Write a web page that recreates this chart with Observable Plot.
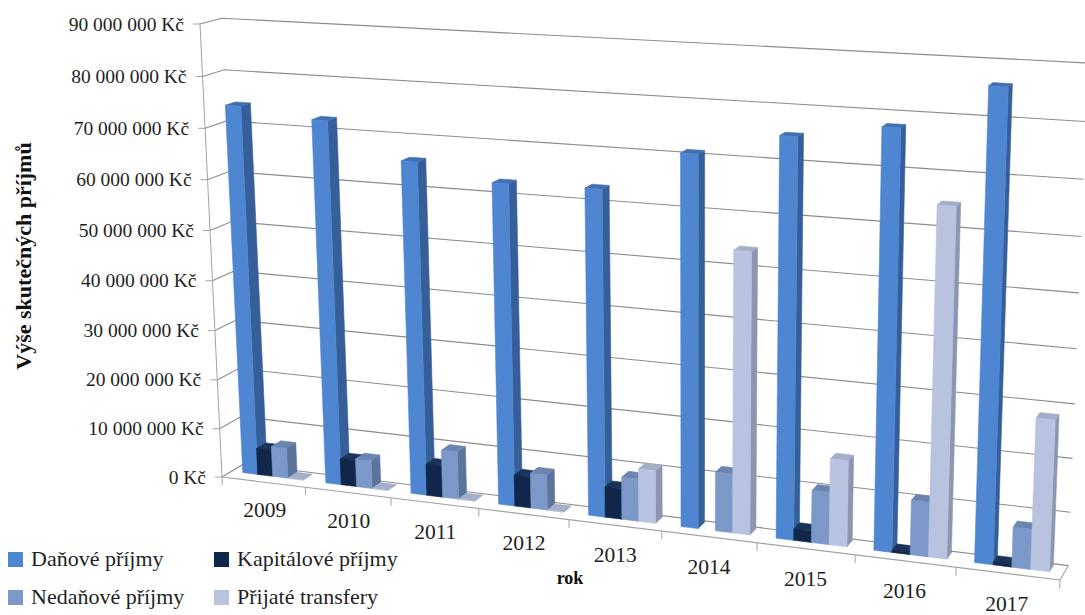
<!DOCTYPE html>
<html>
<head>
<meta charset="utf-8">
<script src="https://cdn.jsdelivr.net/npm/d3@7"></script>
<script src="https://cdn.jsdelivr.net/npm/@observablehq/plot@0.6"></script>
<style>
  body { margin: 0; background: #fff; }
  #chart { position: relative; width: 1085px; height: 615px; overflow: hidden; }
  #chart svg { position: absolute; left: 0; top: 0; }
  .legend-item { position: absolute; display: flex; align-items: center; height: 22px;
                 font-family: 'Liberation Serif', 'Times New Roman', serif;
                 font-size: 22px; line-height: 22px; color: #1f1f1f; white-space: nowrap; }
  .legend-item i { display: inline-block; width: 15px; height: 15px; margin-right: 8px; }
</style>
</head>
<body>
<div id="chart"></div>
<script>
// Categories (years) and series
const years = ["2009", "2010", "2011", "2012", "2013", "2014", "2015", "2016", "2017"];
const series = ["Daňové příjmy", "Kapitálové příjmy", "Nedaňové příjmy", "Přijaté transfery"];

// Actual revenues in Kč per year
const danovePrijmy      = [74.0e6, 72.3e6, 65.6e6, 62.7e6, 63.0e6, 70.7e6, 75.0e6, 77.7e6, 85.9e6];
const kapitalovePrijmy  = [5.4e6, 5.3e6, 6.3e6, 6.2e6, 6.0e6, null, 2.2e6, 0.4e6, 0.5e6];
const nedanovePrijmy    = [6.2e6, 5.7e6, 9.5e6, 7.0e6, 8.3e6, 11.4e6, 10.0e6, 10.3e6, 7.5e6];
const prijateTransfery  = [0, 0, 0, 0, 10.3e6, 53.6e6, 16.4e6, 64.6e6, 28.0e6];
const seriesValues = [danovePrijmy, kapitalovePrijmy, nedanovePrijmy, prijateTransfery];

// Value axis ticks
const yTicks = [0, 10e6, 20e6, 30e6, 40e6, 50e6, 60e6, 70e6, 80e6, 90e6];
const yMax = 90e6;

// Face colours: front, top, right side
const frontColors = ["#4e86d2", "#10264a", "#7b98c9", "#b8c3e0"];
const topColors   = ["#416fb0", "#1b3358", "#6b85b0", "#a3aec9"];
const sideColors  = ["#365f9a", "#0a1a33", "#5c739b", "#8c96ae"];

const czk = d3.formatLocale({decimal: ",", thousands: " ", grouping: [3], currency: ["", " Kč"]}).format("$,");

const rows = years.flatMap((year, i) =>
  series.map((s, j) => ({year, series: s, value: seriesValues[j][i]})));

// Perspective camera: front plane corners (u,v in unit square) and the depth vanishing point
const frontPlane = [[222, 477], [1060, 580], [1080, 69.5], [200, 24]];
const vanishingPoint = [1600, -350];
const depthShrink = 0.0155;

function homography([p0, p1, p2, p3]) {
  const [x0, y0] = p0, [x1, y1] = p1, [x2, y2] = p2, [x3, y3] = p3;
  const dx1 = x1 - x2, dx2 = x3 - x2, dx3 = x0 - x1 + x2 - x3;
  const dy1 = y1 - y2, dy2 = y3 - y2, dy3 = y0 - y1 + y2 - y3;
  const den = dx1 * dy2 - dx2 * dy1;
  const g = (dx3 * dy2 - dx2 * dy3) / den;
  const h = (dx1 * dy3 - dx3 * dy1) / den;
  const a = x1 - x0 + g * x1, b = x3 - x0 + h * x3, c = x0;
  const d = y1 - y0 + g * y1, e = y3 - y0 + h * y3, f = y0;
  return (u, v) => {
    const w = g * u + h * v + 1;
    return [(a * u + b * v + c) / w, (d * u + e * v + f) / w];
  };
}
const H = homography(frontPlane);
function project(u, v, z) {
  const [fx, fy] = H(u, v);
  const s = 1 - depthShrink * z;
  return [vanishingPoint[0] + (fx - vanishingPoint[0]) * s,
          vanishingPoint[1] + (fy - vanishingPoint[1]) * s];
}
const poly = pts => "M" + pts.map(p => p[0].toFixed(2) + "," + p[1].toFixed(2)).join("L") + "Z";
const line = pts => "M" + pts.map(p => p[0].toFixed(2) + "," + p[1].toFixed(2)).join("L");

function columns3d(index, scales) {
  const xs = scales.x, ys = scales.y;
  const bw = xs.bandwidth ? xs.bandwidth() : 1 / years.length;
  const g = d3.create("svg:g");
  const gridColor = "#8c8c8c", axisColor = "#a3a3a3";
  const serif = "'Liberation Serif', 'Times New Roman', serif";

  // Gridlines: stub across the side wall, then along the back wall
  for (const t of yTicks) {
    const v = ys(t);
    g.append("path").attr("d", line([project(0, v, 0), project(0, v, 1), project(1, v, 1)]))
      .attr("fill", "none").attr("stroke", gridColor).attr("stroke-width", 1.1);
  }

  // Value axis line with tick marks
  g.append("path").attr("d", line([project(0, ys(0), 0), project(0, ys(yMax), 0)]))
    .attr("fill", "none").attr("stroke", axisColor).attr("stroke-width", 1);
  for (const t of yTicks) {
    const [px, py] = project(0, ys(t), 0);
    g.append("path").attr("d", line([[px - 7, py], [px, py]]))
      .attr("stroke", axisColor).attr("stroke-width", 1);
  }

  // Floor front edge, right edge and category ticks
  const uEnd = xs(years[years.length - 1]) + bw;
  g.append("path").attr("d", line([project(0, ys(0), 0), project(uEnd, ys(0), 0), project(uEnd, ys(0), 1)]))
    .attr("fill", "none").attr("stroke", axisColor).attr("stroke-width", 1.1);
  const bounds = years.map(y => xs(y)).concat([uEnd]);
  for (const u of bounds) {
    g.append("path").attr("d", line([project(u, ys(0), 0), project(u, ys(-1.6e6), 0)]))
      .attr("stroke", axisColor).attr("stroke-width", 1);
  }

  // 3D columns, drawn left to right so neighbours cover hidden side faces
  const n = series.length, w = bw / (n + 1.5);
  const zf = 0.45, zb = 0.9;
  years.forEach((yr, i) => {
    series.forEach((s, j) => {
      const val = seriesValues[j][i];
      if (val == null) return;
      const u0 = xs(yr) + 0.75 * w + j * w, u1 = u0 + w;
      const v0 = ys(0), v1 = ys(val);
      const faces = [
        [[project(u1, v0, zf), project(u1, v1, zf), project(u1, v1, zb), project(u1, v0, zb)], sideColors[j]],
        [[project(u0, v1, zf), project(u1, v1, zf), project(u1, v1, zb), project(u0, v1, zb)], topColors[j]],
        [[project(u0, v0, zf), project(u1, v0, zf), project(u1, v1, zf), project(u0, v1, zf)], frontColors[j]]
      ];
      for (const [pts, c] of faces) {
        g.append("path").attr("d", poly(pts)).attr("fill", c)
          .attr("stroke", c).attr("stroke-width", 0.6).attr("stroke-linejoin", "round");
      }
    });
  });

  // Value tick labels
  for (const t of yTicks) {
    const [px, py] = project(0, ys(t), 0);
    g.append("text").attr("x", px - 16).attr("y", py).attr("text-anchor", "end")
      .attr("dominant-baseline", "central").style("font-family", serif)
      .attr("font-size", 19.5).attr("fill", "#1e1e1e").text(czk(t));
  }

  // Year labels under the floor
  for (const yr of years) {
    const [px, py] = project(xs(yr) + bw / 2, ys(-5.8e6), 0);
    g.append("text").attr("x", px).attr("y", py).attr("text-anchor", "middle")
      .attr("dominant-baseline", "central").style("font-family", serif)
      .attr("font-size", 21.5).attr("fill", "#1e1e1e").text(yr);
  }

  // Axis titles
  g.append("text").attr("transform", "translate(23,256) rotate(-90)")
    .attr("text-anchor", "middle").attr("dominant-baseline", "central").style("font-family", serif)
    .attr("font-size", 22).attr("font-weight", "bold").attr("fill", "#111").text("Výše skutečných příjmů");
  g.append("text").attr("x", 570).attr("y", 584).attr("text-anchor", "middle").style("font-family", serif)
    .attr("font-size", 18).attr("font-weight", "bold").attr("fill", "#111").text("rok");

  return g.node();
}

const chart = Plot.plot({
  width: 1085,
  height: 615,
  margin: 0,
  x: {type: "band", domain: years, range: [0, 1], padding: 0, round: false, axis: null},
  y: {type: "linear", domain: [0, yMax], range: [0, 1], axis: null},
  style: {background: "transparent", overflow: "hidden"},
  marks: [
    Plot.dot(rows, {x: "year", y: "value", r: 0}),
    columns3d
  ]
});

const host = document.getElementById("chart");
host.appendChild(chart);

// Legend, two columns by two rows
const legendPos = [[8, 548], [214, 548], [8, 586], [214, 586]];
series.forEach((s, j) => {
  const item = document.createElement("div");
  item.className = "legend-item";
  item.style.left = legendPos[j][0] + "px";
  item.style.top = legendPos[j][1] + "px";
  const sw = document.createElement("i");
  sw.style.background = frontColors[j];
  item.appendChild(sw);
  item.appendChild(document.createTextNode(s));
  host.appendChild(item);
});
</script>
</body>
</html>
